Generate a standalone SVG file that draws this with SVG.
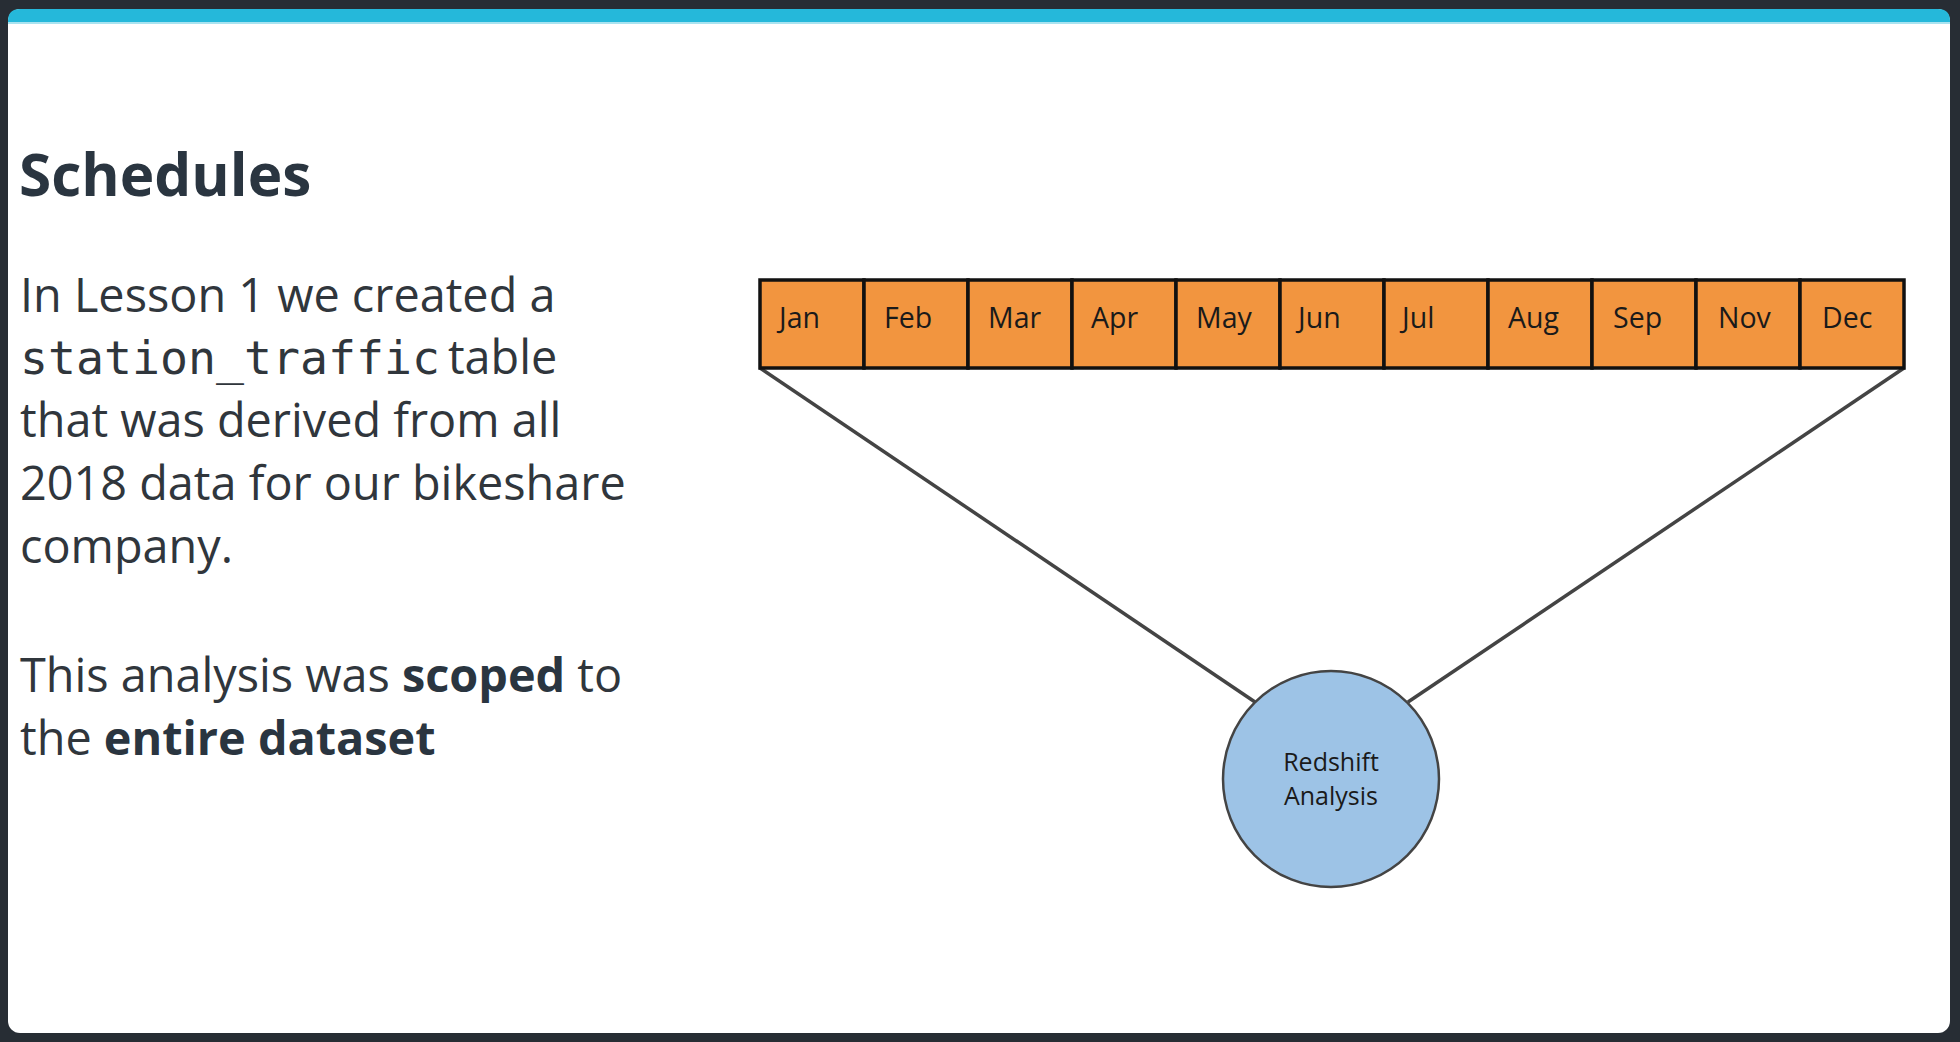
<svg xmlns="http://www.w3.org/2000/svg" width="1960" height="1042" viewBox="0 0 1960 1042">
<style>
.body{font-family:"Open Sans","Liberation Sans",sans-serif;font-size:46.8px;fill:#30363c}
.b{font-weight:700;fill:#2a3540}
.mono{font-family:"DejaVu Sans Mono","Liberation Mono",monospace;font-size:46.5px;fill:#30363c}
.title{font-family:"Open Sans","Liberation Sans",sans-serif;font-size:58.5px;font-weight:700;fill:#2a3540}
.cell{fill:#f2953f;stroke:#111;stroke-width:3.5}
.mon{font-family:"Open Sans","Liberation Sans",sans-serif;font-size:28.5px;fill:#1a1a1a}
.conn{stroke:#444;stroke-width:3.5;fill:none}
.lbl{font-family:"Open Sans","Liberation Sans",sans-serif;font-size:25px;fill:#1a1a1a;text-anchor:middle}
</style>
<rect x="0" y="0" width="1960" height="1042" fill="#272d34"/>
<rect x="8" y="9" width="1942" height="1024" rx="12" fill="#ffffff"/>
<path d="M8 22 V21 Q8 9 20 9 H1938 Q1950 9 1950 21 V22 Z" fill="#25b8da"/>
<rect x="8" y="22" width="1942" height="2" fill="#a9e3f0"/>

<g id="title"><text class="title" x="19" y="196">Schedules</text></g>
<g id="body">
<text class="body" x="20" y="312">In Lesson 1 we created a</text>
<text x="20" y="374"><tspan class="mono">station_traffic</tspan><tspan class="body" dx="8">table</tspan></text>
<text class="body" x="20" y="437">that was derived from all</text>
<text class="body" x="20" y="500">2018 data for our bikeshare</text>
<text class="body" x="20" y="563">company.</text>
<text class="body" x="20" y="692">This analysis was <tspan class="b">scoped</tspan> to</text>
<text class="body" x="20" y="755">the <tspan class="b">entire dataset</tspan></text>
</g>

<g id="connectors">
<line class="conn" x1="760" y1="368" x2="1255" y2="702"/>
<line class="conn" x1="1904" y1="368" x2="1408" y2="702"/>
</g>

<g id="months">
<g id="jan"><rect class="cell" x="760" y="280" width="104" height="88"/><text class="mon" x="779" y="328">Jan</text></g>
<g id="feb"><rect class="cell" x="864" y="280" width="104" height="88"/><text class="mon" x="884" y="328">Feb</text></g>
<g id="mar"><rect class="cell" x="968" y="280" width="104" height="88"/><text class="mon" x="988" y="328">Mar</text></g>
<g id="apr"><rect class="cell" x="1072" y="280" width="104" height="88"/><text class="mon" x="1091" y="328">Apr</text></g>
<g id="may"><rect class="cell" x="1176" y="280" width="104" height="88"/><text class="mon" x="1196" y="328">May</text></g>
<g id="jun"><rect class="cell" x="1280" y="280" width="104" height="88"/><text class="mon" x="1298" y="328">Jun</text></g>
<g id="jul"><rect class="cell" x="1384" y="280" width="104" height="88"/><text class="mon" x="1402" y="328">Jul</text></g>
<g id="aug"><rect class="cell" x="1488" y="280" width="104" height="88"/><text class="mon" x="1508" y="328">Aug</text></g>
<g id="sep"><rect class="cell" x="1592" y="280" width="104" height="88"/><text class="mon" x="1613" y="328">Sep</text></g>
<g id="nov"><rect class="cell" x="1696" y="280" width="104" height="88"/><text class="mon" x="1718" y="328">Nov</text></g>
<g id="dec"><rect class="cell" x="1800" y="280" width="104" height="88"/><text class="mon" x="1822" y="328">Dec</text></g>
</g>

<g id="redshift">
<circle cx="1331" cy="779" r="108" fill="#9dc3e6" stroke="#444" stroke-width="2.5"/>
<text class="lbl" x="1331" y="771">Redshift</text>
<text class="lbl" x="1331" y="805">Analysis</text>
</g>
</svg>
